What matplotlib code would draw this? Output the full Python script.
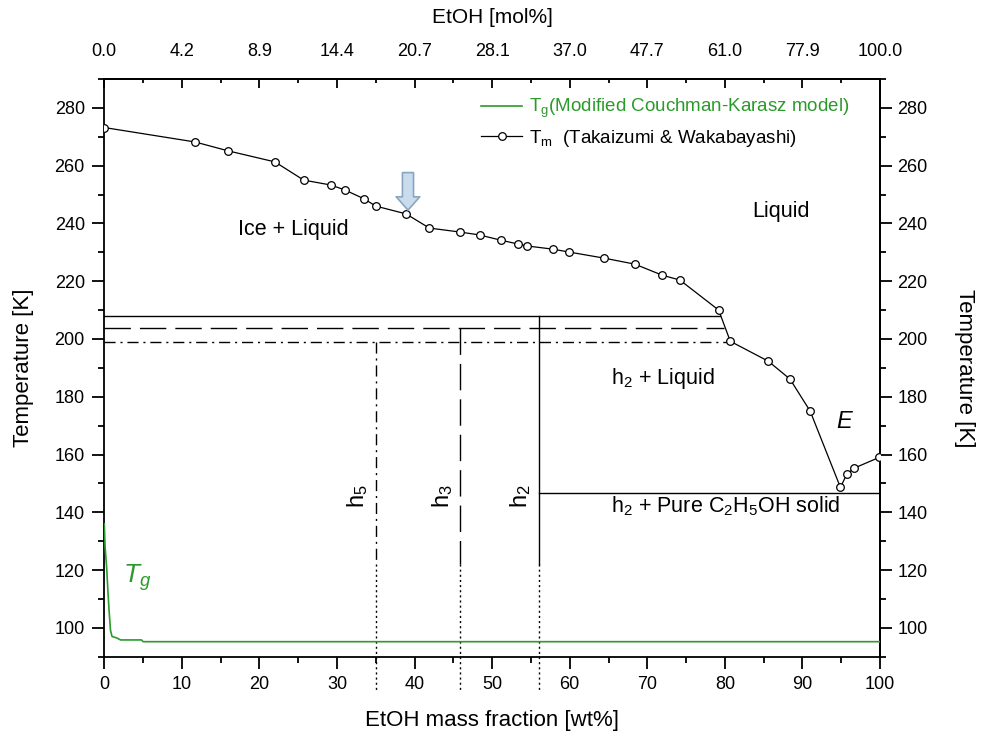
import matplotlib
matplotlib.use('Agg')
import matplotlib.pyplot as plt
from matplotlib.ticker import FixedLocator

plt.rcParams['font.family'] = ['Liberation Sans', 'DejaVu Sans']
plt.rcParams['mathtext.fontset'] = 'custom'
plt.rcParams['mathtext.rm'] = 'Liberation Sans'
plt.rcParams['mathtext.it'] = 'Liberation Sans:italic'
plt.rcParams['mathtext.bf'] = 'Liberation Sans:bold'

# ---- data ----
wt_tm = [0.0, 11.7, 16.0, 22.0, 25.7, 29.2, 31.0, 33.5, 35.0, 38.9, 41.9, 45.9,
         48.4, 51.1, 53.3, 54.5, 57.8, 59.9, 64.4, 68.4, 71.9, 74.2, 79.2, 80.7,
         85.6, 88.4, 91.0, 94.9, 95.7, 96.6, 99.9]
T_tm = [273.2, 268.2, 265.1, 261.3, 255.0, 253.3, 251.6, 248.5, 246.0, 243.3, 238.4, 237.0,
        236.0, 234.2, 232.9, 232.2, 231.1, 230.1, 228.0, 225.9, 222.1, 220.4, 210.0, 199.2,
        192.3, 186.1, 175.0, 148.6, 153.1, 155.2, 159.0]

wt_tg = [0.0, 0.1, 0.3, 0.45, 0.6, 0.8, 1.0, 1.6, 2.1, 4.8, 5.0, 100.0]
T_tg = [136.0, 128.0, 121.0, 113.5, 106.6, 99.1, 97.0, 96.5, 95.8, 95.8, 95.2, 95.2]

wt_ticks = [0, 10, 20, 30, 40, 50, 60, 70, 80, 90, 100]
wt_minor_ticks = [5, 15, 25, 35, 45, 55, 65, 75, 85, 95]
T_ticks = [100, 120, 140, 160, 180, 200, 220, 240, 260, 280]
T_minor_ticks = [90, 110, 130, 150, 170, 190, 210, 230, 250, 270, 290]
mol_tick_labels = ['0.0', '4.2', '8.9', '14.4', '20.7', '28.1', '37.0', '47.7', '61.0', '77.9', '100.0']

hydrate_names = ['h$_2$', 'h$_3$', 'h$_5$']
hydrate_wt = [56.0, 45.9, 35.0]
hydrate_T = [207.9, 203.7, 199.0]
hydrate_line_end_wt = [79.4, 79.9, 80.5]
eutectic_T = 146.8
eutectic_wt_end = 100.0
style_change_T = 122.0
below_axis_T = 78.0

green = '#2a9a2a'

fig = plt.figure(figsize=(9.85, 7.37), dpi=100)
ax = fig.add_axes([104.3/985, 1-656.7/737, (880-104.3)/985, (656.7-79)/737])

ax.set_xlim(0, 100)
ax.set_ylim(90, 290)

# Tg curve
ax.plot(wt_tg, T_tg, color=green, lw=1.2, label=r'T$_\mathrm{g}$(Modified Couchman-Karasz model)', zorder=3)
# Tm curve
ax.plot(wt_tm, T_tm, color='black', lw=0.9, marker='o', ms=5.5, mfc='white', mec='black',
        mew=0.9, label=r'T$_\mathrm{m}$  (Takaizumi & Wakabayashi)', zorder=4)

# hydrate lines
styles_main = ['-', (0, (19, 6.5)), (0, (8, 3.5, 1.5, 3.5))]
dotted = (0, (1.5, 2.2))
for wt, T, xend, ls in zip(hydrate_wt, hydrate_T, hydrate_line_end_wt, styles_main):
    ax.plot([0, xend], [T, T], color='black', lw=1.0, ls=ls, zorder=2)
    ax.plot([wt, wt], [T, style_change_T], color='black', lw=1.0, ls=ls, zorder=2)
    ax.plot([wt, wt], [style_change_T, below_axis_T], color='black', lw=1.0, ls=dotted,
            zorder=2, clip_on=False)
ax.plot([hydrate_wt[0], eutectic_wt_end], [eutectic_T, eutectic_T], color='black', lw=1.0, zorder=2)

# hydrate labels
for name, wt in zip(hydrate_names, hydrate_wt):
    ax.text(wt - 0.75, 145.6, name, rotation=90, ha='right', va='center', fontsize=17)

# region labels
ax.text(24.4, 238.0, 'Ice + Liquid', ha='center', va='center', fontsize=15.5)
ax.text(87.2, 244.3, 'Liquid', ha='center', va='center', fontsize=15.5)
ax.text(65.3, 186.4, 'h$_2$ + Liquid', ha='left', va='center', fontsize=15.5)
ax.text(65.3, 142.0, 'h$_2$ + Pure C$_2$H$_5$OH solid', ha='left', va='center', fontsize=15.5)
ax.text(95.4, 171.3, 'E', ha='center', va='center', fontsize=17, style='italic')
ax.text(4.2, 117.5, '$T_g$', ha='center', va='center', fontsize=19, color=green)

# arrow
ax.annotate('', xy=(39.15, 244.6), xytext=(39.15, 257.6),
            arrowprops=dict(arrowstyle='simple,head_length=9.6,head_width=17,tail_width=8',
                            mutation_scale=1, fc='#c8dcee', ec='#8aa6bf', lw=1.2,
                            shrinkA=0, shrinkB=0), zorder=5)

# axes styling
for s in ax.spines.values():
    s.set_linewidth(1.3)
ax.xaxis.set_major_locator(FixedLocator(wt_ticks))
ax.xaxis.set_minor_locator(FixedLocator(wt_minor_ticks))
ax.yaxis.set_major_locator(FixedLocator(T_ticks))
ax.yaxis.set_minor_locator(FixedLocator(T_minor_ticks))
ax.tick_params(which='major', direction='out', length=8.5, width=1.3, labelsize=13, pad=5.5)
ax.tick_params(which='minor', direction='out', length=4.3, width=1.3)
ax.set_xlabel('EtOH mass fraction [wt%]', fontsize=16, labelpad=12)
ax.set_ylabel('Temperature [K]', fontsize=16, labelpad=15)

# top axis (mol%)
top = ax.secondary_xaxis('top')
top.set_xticks(wt_ticks, labels=mol_tick_labels)
top.xaxis.set_minor_locator(FixedLocator(wt_minor_ticks))
top.tick_params(which='major', direction='in', length=6.5, width=1.3, labelsize=13, pad=14)
top.tick_params(which='minor', direction='in', length=3.2, width=1.3)
top.set_xlabel('EtOH [mol%]', fontsize=15, labelpad=14)
top.spines['top'].set_linewidth(1.3)

# right axis
right = ax.secondary_yaxis('right')
right.yaxis.set_major_locator(FixedLocator(T_ticks))
right.yaxis.set_minor_locator(FixedLocator(T_minor_ticks))
right.tick_params(which='major', direction='out', length=8.5, width=1.3, labelsize=13, pad=4)
right.tick_params(which='minor', direction='out', length=4.3, width=1.3)
right.set_ylabel('Temperature [K]', fontsize=16, rotation=270, labelpad=34)
right.spines['right'].set_linewidth(1.3)

leg = ax.legend(loc='upper left', bbox_to_anchor=(0.4856, 0.969), frameon=False, fontsize=13.5,
                handlelength=2.2, handletextpad=0.35, labelspacing=0.4, borderpad=0,
                borderaxespad=0)
leg.get_texts()[0].set_color(green)

fig.savefig('out.png', dpi=100)
